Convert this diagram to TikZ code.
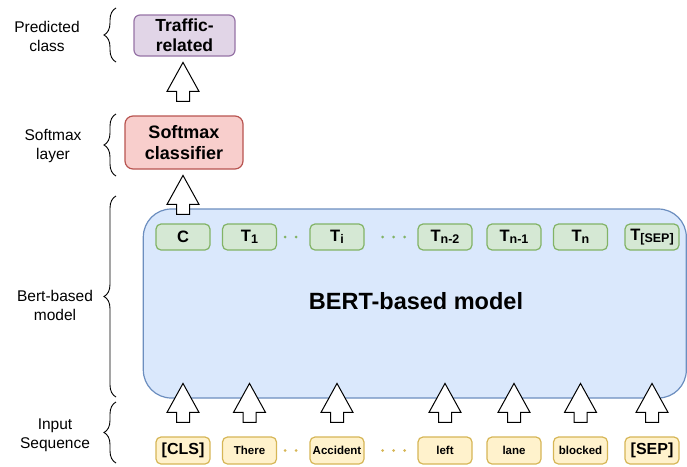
\documentclass[tikz,border=0pt]{standalone}
\usepackage{fontspec}
\setmainfont{Liberation Sans}
\usetikzlibrary{calc,decorations.pathreplacing}
\definecolor{gfill}{HTML}{D5E8D4}\definecolor{gline}{HTML}{82B366}
\definecolor{yfill}{HTML}{FFF2CC}\definecolor{yline}{HTML}{D6B656}
\definecolor{bfill}{HTML}{DAE8FC}\definecolor{bline}{HTML}{6C8EBF}
\definecolor{rfill}{HTML}{F8CECC}\definecolor{rline}{HTML}{B85450}
\definecolor{pfill}{HTML}{E1D5E7}\definecolor{pline}{HTML}{9673A6}
\newcommand{\tsub}[1]{\raisebox{-1.5pt}{\fontsize{12.5}{12.5}\selectfont #1}}
\begin{document}
\begin{tikzpicture}[x=1pt,y=-1pt,
  lbl/.style={align=center,font=\fontsize{15.5}{19}\selectfont,inner sep=0pt},
  brc/.style={decorate,decoration={brace,amplitude=12pt},line width=0.9pt},
  tok/.style={draw=gline,fill=gfill,line width=1.2pt,rounded corners=5pt,minimum width=54pt,minimum height=26pt,inner sep=0pt,font=\bfseries\fontsize{16.5}{16.5}\selectfont},
  inp/.style={draw=yline,fill=yfill,line width=1.2pt,rounded corners=5pt,minimum width=54pt,minimum height=27pt,inner sep=0pt,font=\bfseries\fontsize{11.5}{12}\selectfont},
  gdots/.style={draw=gline,line width=3pt,line cap=round,dash pattern=on 0pt off 11pt},
  ydots/.style={draw=yline,line width=3pt,line cap=round,dash pattern=on 0pt off 11pt},
  barrow/.pic={\draw[fill=white,line width=1pt,line join=miter] (-6.5,0) -- (6.5,0) -- (6.5,-10) -- (16,-10) -- (0,-39) -- (-16,-10) -- (-6.5,-10) -- cycle;}
]
\useasboundingbox (0,0) rectangle (687,466);

% left labels
\node[lbl] (lpred) at (47,36) {Predicted\\class};
\node[lbl] (lsoft) at (53,146) {Softmax\\layer};
\node[lbl] (lbert) at (55,305) {Bert-based\\model};
\node[lbl] (linp) at (55,435) {Input\\Sequence};
\draw[brc] (116,62) -- (116,8);
\draw[brc] (116,176) -- (116,114);
\draw[brc] (116,397) -- (116,196);
\draw[brc] (116,463) -- (116,402);

% top boxes
\node[draw=pline,fill=pfill,line width=1.2pt,rounded corners=6pt,minimum width=101pt,minimum height=41pt,inner sep=0pt,align=center,font=\bfseries\fontsize{17.5}{20}\selectfont] (traffic) at (184.5,35.5) {Traffic-\\related};
\node[draw=rline,fill=rfill,line width=1.2pt,rounded corners=8pt,minimum width=118pt,minimum height=53pt,inner sep=0pt,align=center,font=\bfseries\fontsize{18}{21}\selectfont] (softmax) at (184,142.5) {Softmax\\classifier};

% BERT box
\node[draw=bline,fill=bfill,line width=1.2pt,rounded corners=28pt,minimum width=543pt,minimum height=189pt,inner sep=0pt] (bert) at (414.8,303.5) {};
\node[font=\bfseries\fontsize{23.5}{24}\selectfont,inner sep=0pt] (berttxt) at (416,301) {BERT-based model};

% output tokens
\node[tok] (c) at (183,237) {C};
\node[tok] (t1) at (249.5,237) {T\tsub{1}};
\node[tok] (ti) at (337,237) {T\tsub{i}};
\node[tok] (tn2) at (445,237) {T\tsub{n-2}};
\node[tok] (tn1) at (514,237) {T\tsub{n-1}};
\node[tok] (tn) at (580.5,237) {T\tsub{n}};
\node[tok] (tsep) at (652,237) {T\tsub{[SEP]}};
\draw[gdots] ($(t1.east)+(8,0)$) -- ($(ti.west)+(-4,0)$);
\draw[gdots] ($(ti.east)+(18,0)$) -- ($(tn2.west)+(-12,0)$);

% input tokens
\node[inp,font=\bfseries\fontsize{16}{16}\selectfont] (cls) at (183,450.5) {[CLS]};
\node[inp] (there) at (249.5,450.5) {There};
\node[inp] (acc) at (337,450.5) {Accident};
\node[inp] (left) at (445,450.5) {left};
\node[inp] (lane) at (514,450.5) {lane};
\node[inp] (blocked) at (580.5,450.5) {blocked};
\node[inp,font=\bfseries\fontsize{16}{16}\selectfont] (sep) at (652,450.5) {[SEP]};
\draw[ydots] ($(there.east)+(8,0)$) -- ($(acc.west)+(-4,0)$);
\draw[ydots] ($(acc.east)+(18,0)$) -- ($(left.west)+(-12,0)$);

% block arrows
\foreach \n in {cls,there,acc,left,lane,blocked,sep}{
  \pic at ($(\n.north)+(0,-14)$) {barrow};
}
\pic at ($(softmax.north)+(-1,-14)$) {barrow};
\pic at ($(c.north)+(0,-9)$) {barrow};
\end{tikzpicture}
\end{document}
